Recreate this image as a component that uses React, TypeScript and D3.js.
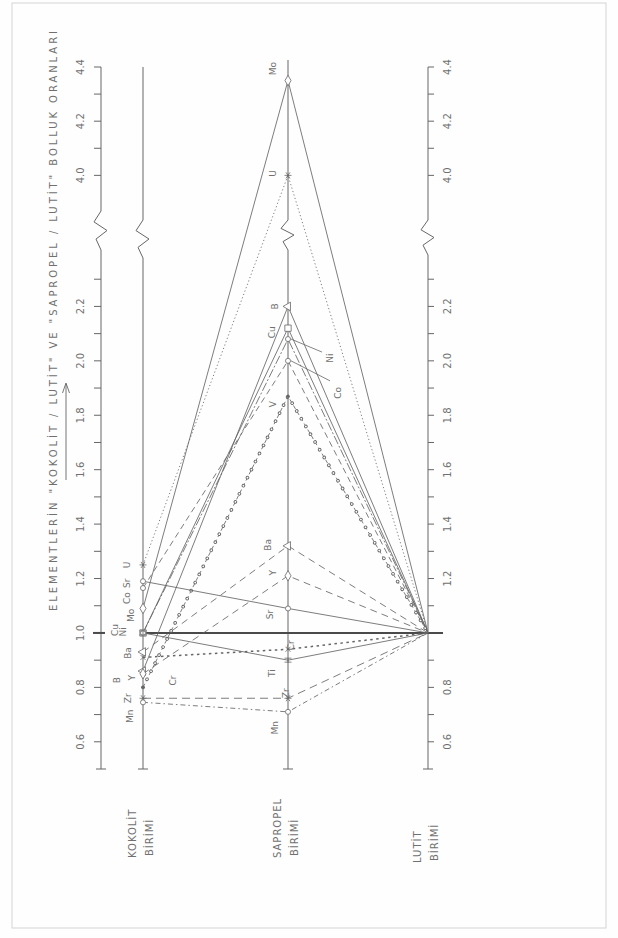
import React from "react";
import * as d3 from "d3";

// Element abundance ratios relative to the lutite unit
const units = ["KOKOLİT", "SAPROPEL", "LUTİT"];
const elements = ["Mo", "U", "B", "Cu", "Ni", "Co", "V", "Ba", "Y", "Sr", "Cr", "Ti", "Zr", "Mn"];
const kokolitLutit = [1.09, 1.25, 0.86, 1.0, 1.0, 1.165, 0.8, 0.93, 0.85, 1.19, 0.91, 1.0, 0.76, 0.745];
const sapropelLutit = [4.35, 4.0, 2.2, 2.12, 2.08, 2.0, 1.87, 1.32, 1.21, 1.09, 0.94, 0.9, 0.76, 0.71];
const lutitLutit = [1, 1, 1, 1, 1, 1, 1, 1, 1, 1, 1, 1, 1, 1];

const minorTicks = [0.6, 0.7, 0.8, 0.9, 1.0, 1.1, 1.2, 1.3, 1.4, 1.5, 1.6, 1.7, 1.8, 1.9, 2.0, 2.1, 2.2, 2.3, 4.0, 4.1, 4.2, 4.3, 4.4];
const leftTickLabels = ["0.6", "0.8", "1.0", "1.2", "1.4", "1.6", "1.8", "2.0", "2.2", "4.0", "4.2", "4.4"];
const rightTickLabels = ["0.6", "0.8", "1.2", "1.4", "1.6", "1.8", "2.0", "2.2", "4.0", "4.2", "4.4"];

const TITLE = 'ELEMENTLERİN "KOKOLİT / LUTİT" VE "SAPROPEL / LUTİT" BOLLUK ORANLARI';

const INK = "#666";
const TXT = "#707070";

// broken value axis: 0.5–2.4, gap, 3.85–4.4
const y = d3.scaleLinear().domain([0.5, 2.4, 3.85, 4.4]).range([769, 252, 216, 67]);
const x = d3.scaleLinear().domain([0, 1, 2]).range([143, 288, 428]);
const AXIS_L = 101;
const AXIS_R = 428;

type Style = { dash?: string; width?: number; rings?: boolean };
const lineStyle: Record<string, Style> = {
  Mo: {},
  U: { dash: "1.2,2.4" },
  B: {},
  Cu: {},
  Ni: { dash: "9,2,2,2" },
  Co: { dash: "6,4" },
  V: { dash: "4,3", rings: true },
  Ba: { dash: "7,5" },
  Y: { dash: "7,5" },
  Sr: {},
  Cr: { dash: "2.5,3.5", width: 1.5 },
  Ti: {},
  Zr: { dash: "8,5" },
  Mn: { dash: "5,3,1.5,3" },
};

const markerType: Record<string, string> = {
  Mo: "diamond", U: "star", B: "triangle", Cu: "square", Ni: "circle", Co: "circle",
  V: "dot", Ba: "triangle", Y: "diamond", Sr: "circle", Cr: "cross", Ti: "bar",
  Zr: "star", Mn: "circle",
};

// label offsets from the point on each unit axis [dx, dy]
const kokolitLabel: Record<string, [number, number]> = {
  U: [-16, 0], Sr: [-16, 2], Co: [-16, 10], Mo: [-12, 7], Cu: [-28, -3], Ni: [-20, -1],
  Ba: [-15, 1], B: [-26, 9], Y: [-11, 4], Zr: [-15, 0], Mn: [-13, 14], Cr: [30, 23],
};
const sapropelLabel: Record<string, [number, number]> = {
  Mo: [-15, -12], U: [-15, -2], B: [-13, 0], Cu: [-16, 4], V: [-15, 8], Ba: [-20, -1],
  Y: [-15, -3], Sr: [-18, 6], Cr: [3, -4], Ti: [-16, 13], Zr: [-2, -5], Mn: [-13, 16],
  Ni: [42, 19], Co: [50, 32],
};

function RText({ x, y, size = 9, anchor = "middle", children, spacing = 0, length }: any) {
  return (
    <text
      transform={`translate(${x},${y}) rotate(-90)`}
      textAnchor={anchor}
      dominantBaseline="central"
      fontSize={size}
      fill={TXT}
      letterSpacing={spacing}
      textLength={length}
      lengthAdjust={length ? "spacing" : undefined}
      fontFamily="'DejaVu Sans', sans-serif"
    >
      {children}
    </text>
  );
}

function Marker({ type, cx, cy }: { type: string; cx: number; cy: number }) {
  const st = { fill: "white", stroke: INK, strokeWidth: 0.8 };
  if (type === "star") {
    return (
      <g transform={`translate(${cx},${cy})`} stroke={INK} strokeWidth={0.8}>
        <line x1={-3.5} y1={0} x2={3.5} y2={0} />
        <line x1={-2} y1={-3} x2={2} y2={3} />
        <line x1={-2} y1={3} x2={2} y2={-3} />
      </g>
    );
  }
  if (type === "cross") {
    return (
      <g transform={`translate(${cx},${cy})`} stroke={INK} strokeWidth={0.8}>
        <line x1={-2.5} y1={-2.5} x2={2.5} y2={2.5} />
        <line x1={-2.5} y1={2.5} x2={2.5} y2={-2.5} />
      </g>
    );
  }
  if (type === "bar") {
    return (
      <g transform={`translate(${cx},${cy})`} stroke={INK} strokeWidth={0.8} fill="none">
        <path d="M-3.5,-2 H3.5 M-3.5,2 H3.5 M0,-2 V2" />
      </g>
    );
  }
  if (type === "dot") {
    return <circle cx={cx} cy={cy} r={1.7} fill={INK} />;
  }
  const sym =
    type === "diamond" ? d3.symbolDiamond :
    type === "square" ? d3.symbolSquare :
    type === "triangle" ? d3.symbolTriangle : d3.symbolCircle;
  const size = type === "square" ? 40 : type === "triangle" ? 32 : type === "diamond" ? 32 : 20;
  const d = d3.symbol().type(sym).size(size)() as string;
  return <path d={d} transform={`translate(${cx},${cy}) rotate(${type === "triangle" ? -90 : 0})`} {...st} />;
}

function brokenAxis(ax: number, top: number, bottom: number, brkTop: number, brkBot: number) {
  const h = brkBot - brkTop;
  const p = d3.path();
  p.moveTo(ax, bottom);
  p.lineTo(ax, brkBot);
  p.lineTo(ax - 5, brkBot - h * 0.28);
  p.lineTo(ax + 6, brkBot - h * 0.5);
  p.lineTo(ax - 7, brkBot - h * 0.72);
  p.lineTo(ax, brkTop);
  p.lineTo(ax, top);
  return p.toString();
}

export default function App() {
  const line = d3.line<[number, number]>().x((d) => x(d[0])).y((d) => y(d[1]));
  const seriesPts = elements.map((_, i) => [
    [0, kokolitLutit[i]],
    [1, sapropelLutit[i]],
    [2, lutitLutit[i]],
  ] as [number, number][]);

  const bottom = y(0.5);

  return (
    <svg width={618} height={938} style={{ position: "absolute", left: 0, top: 0, background: "#fefefe" }}>
      <rect x={12} y={3} width={594} height={925} fill="none" stroke="#d4d4d4" strokeWidth={1} />

      {/* title and direction arrow */}
      <RText x={53} y={321} size={10} length={580}>{TITLE}</RText>
      <g stroke={INK} strokeWidth={0.9} fill="none">
        <line x1={66} y1={480} x2={66} y2={384} />
        <path d="M62.5,393 L66,383 L69.5,393" />
      </g>

      {/* value axes */}
      <g stroke={INK} strokeWidth={1} fill="none">
        <path d={brokenAxis(AXIS_L, y(4.4), bottom, 211, 250)} />
        <path d={brokenAxis(AXIS_R, y(4.4), bottom, 220, 255)} />
        <path d={brokenAxis(x(0), y(4.4), bottom, 220, 258)} />
        <path d={brokenAxis(x(1), 60, bottom, 220, 250)} />
        {minorTicks.map((v) => (
          <g key={v}>
            <line x1={AXIS_L - 7} x2={AXIS_L} y1={y(v)} y2={y(v)} />
            <line x1={AXIS_R} x2={AXIS_R + 6} y1={y(v)} y2={y(v)} />
          </g>
        ))}
        {[AXIS_L, x(0), x(1), AXIS_R].map((ax) => (
          <line key={ax} x1={ax - 5} x2={ax + 5} y1={bottom} y2={bottom} />
        ))}
      </g>
      <line x1={AXIS_L - 8} x2={AXIS_L + 4} y1={y(1)} y2={y(1)} stroke="#4a4a4a" strokeWidth={2} />
      <line x1={x(0)} x2={AXIS_R + 15} y1={y(1)} y2={y(1)} stroke="#4a4a4a" strokeWidth={2} />

      {leftTickLabels.map((t) => (
        <RText key={"l" + t} x={80} y={y(+t)} size={10}>{t}</RText>
      ))}
      {rightTickLabels.map((t) => (
        <RText key={"r" + t} x={447} y={y(+t)} size={10}>{t}</RText>
      ))}

      {/* element lines */}
      {elements.map((el, i) => {
        const s = lineStyle[el];
        const d = line(seriesPts[i]) as string;
        return (
          <g key={el} fill="none">
            <path d={d} stroke={INK} strokeWidth={s.width ?? 0.85} strokeDasharray={s.dash} />
            {s.rings && (
              <>
                <path d={d} stroke={INK} strokeWidth={3.6} strokeDasharray="0.01,9" strokeLinecap="round" />
                <path d={d} stroke="white" strokeWidth={1.8} strokeDasharray="0.01,9" strokeLinecap="round" />
              </>
            )}
          </g>
        );
      })}

      {/* markers on kokolit and sapropel axes */}
      {elements.map((el, i) => (
        <g key={"m" + el}>
          <Marker type={markerType[el]} cx={x(0)} cy={y(kokolitLutit[i])} />
          <Marker type={markerType[el]} cx={x(1)} cy={y(sapropelLutit[i])} />
        </g>
      ))}

      {/* element labels */}
      {elements.map((el, i) => {
        const k = kokolitLabel[el];
        const s = sapropelLabel[el];
        return (
          <g key={"t" + el}>
            {k && <RText x={x(0) + k[0]} y={y(kokolitLutit[i]) + k[1]} size={9}>{el}</RText>}
            {s && <RText x={x(1) + s[0]} y={y(sapropelLutit[i]) + s[1]} size={9}>{el}</RText>}
          </g>
        );
      })}
      {/* leaders for Ni and Co */}
      <g stroke={INK} strokeWidth={0.8}>
        <line x1={x(1) + 3} y1={y(2.08)} x2={x(1) + 34} y2={y(2.08) + 13} />
        <line x1={x(1) + 3} y1={y(2.0)} x2={x(1) + 42} y2={y(2.0) + 20} />
      </g>

      {/* unit names */}
      {units.map((u, i) => {
        const cx = x(i);
        const base = i === 2 ? 863 : 858;
        return (
          <g key={u}>
            <RText x={cx - 11} y={base} anchor="start" size={10} spacing={1}>{u}</RText>
            <RText x={cx + 6} y={base - 2} anchor="start" size={10} spacing={1}>BİRİMİ</RText>
          </g>
        );
      })}
    </svg>
  );
}
